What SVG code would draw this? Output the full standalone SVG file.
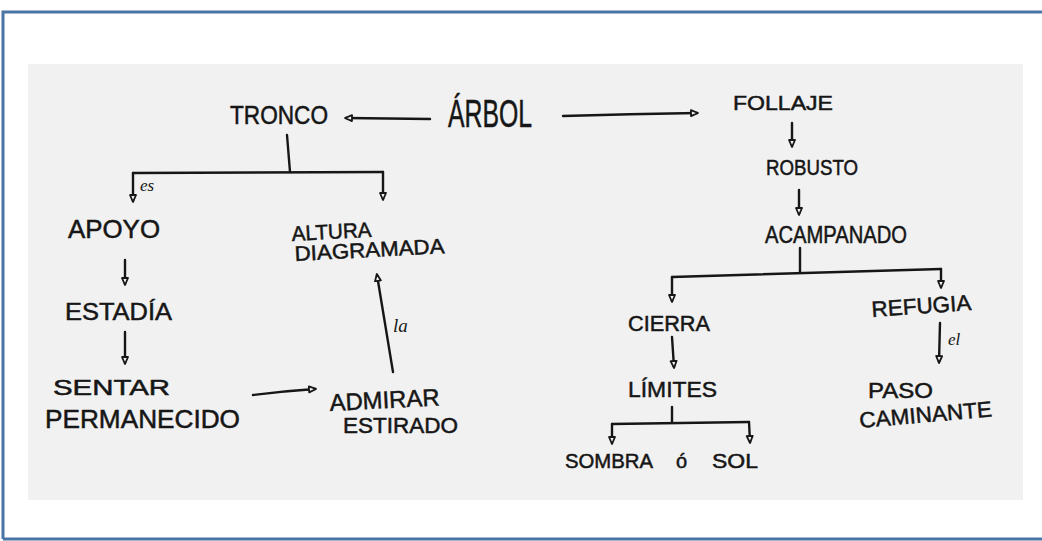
<svg xmlns="http://www.w3.org/2000/svg" width="1042" height="541" viewBox="0 0 1042 541">
<style>
.t{font-family:"Liberation Sans",Arial,sans-serif;fill:#161616;stroke:#161616;stroke-width:0.5;}
.l{font-family:"Liberation Serif","Times New Roman",serif;font-style:italic;fill:#161616;}
.c{stroke:#161616;stroke-width:2.4;fill:none;stroke-linecap:round;}
.h{marker-end:url(#tri);}
</style>
<defs>
<marker id="tri" markerWidth="10" markerHeight="10" refX="7" refY="4" orient="auto" markerUnits="userSpaceOnUse" viewBox="0 0 10 8">
<path d="M1,1 L8,4 L1,7 Z" fill="#f2f2f2" stroke="#161616" stroke-width="1.8" stroke-linejoin="round"/>
</marker>
</defs>
<rect x="0" y="0" width="1042" height="541" fill="#ffffff"/>
<rect x="28" y="64" width="995" height="436" fill="#f1f1f1"/>
<path d="M3,539 L3,12 L1042,12" fill="none" stroke="#4a74a4" stroke-width="3"/>
<line x1="3" y1="539" x2="1042" y2="539" stroke="#4a74a4" stroke-width="3"/>

<g id="connectors">
<path class="c h" d="M430,119 L346,118"/>
<path class="c h" d="M563,116 Q630,114 697,113"/>
<path class="c" d="M287,135 L290,172"/>
<path class="c" d="M133,173 L383,172"/>
<path class="c h" d="M133,173 L133,201"/>
<path class="c h" d="M383,172 L383,199"/>
<path class="c h" d="M125,260 L125,284"/>
<path class="c h" d="M125,332 L125,363"/>
<path class="c h" d="M253,395 Q285,391 315,389"/>
<path class="c h" d="M393,372 L377,275"/>
<path class="c h" d="M792,123 L792,146"/>
<path class="c h" d="M799,190 L799,214"/>
<path class="c" d="M800,248 L800,272"/>
<path class="c" d="M672,277 L941,269"/>
<path class="c h" d="M672,277 L672,301"/>
<path class="c h" d="M941,269 L941,287"/>
<path class="c h" d="M672,337 L674,367"/>
<path class="c h" d="M940,323 L939,362"/>
<path class="c" d="M672,407 L672,422"/>
<path class="c" d="M612,424 L749,422"/>
<path class="c h" d="M612,424 L612,443"/>
<path class="c h" d="M749,422 L750,442"/>
<text class="l" x="140" y="191" font-size="17">es</text>
<text class="l" x="393" y="332" font-size="19">la</text>
<text class="l" x="948" y="345" font-size="17">el</text>
</g>

<g id="arbol"><text class="t" x="448" y="127" font-size="38" textLength="84" lengthAdjust="spacingAndGlyphs">ÁRBOL</text></g>
<g id="tronco"><text class="t" x="230" y="124" font-size="26" textLength="98" lengthAdjust="spacingAndGlyphs">TRONCO</text></g>
<g id="follaje"><text class="t" x="733" y="110" font-size="21" textLength="100" lengthAdjust="spacingAndGlyphs">FOLLAJE</text></g>
<g id="robusto"><text class="t" x="766" y="175" font-size="22" textLength="92" lengthAdjust="spacingAndGlyphs">ROBUSTO</text></g>
<g id="acampanado"><text class="t" x="765" y="243" font-size="24" textLength="142" lengthAdjust="spacingAndGlyphs">ACAMPANADO</text></g>
<g id="cierra"><text class="t" x="628" y="331" font-size="22" textLength="82" lengthAdjust="spacingAndGlyphs">CIERRA</text></g>
<g id="refugia"><text class="t" x="872" y="317" font-size="22" textLength="100" lengthAdjust="spacingAndGlyphs" transform="rotate(-4 872 317)">REFUGIA</text></g>
<g id="limites"><text class="t" x="628" y="397" font-size="22" textLength="89" lengthAdjust="spacingAndGlyphs">LÍMITES</text></g>
<g id="sombra-sol"><text class="t" y="468" font-size="20"><tspan x="565" textLength="88" lengthAdjust="spacingAndGlyphs">SOMBRA</tspan><tspan x="676">ó</tspan><tspan x="712" textLength="46" lengthAdjust="spacingAndGlyphs">SOL</tspan></text></g>
<g id="paso-caminante">
<text class="t" x="868" y="398" font-size="22" textLength="65" lengthAdjust="spacingAndGlyphs">PASO</text>
<text class="t" x="860" y="428" font-size="22" textLength="133" lengthAdjust="spacingAndGlyphs" transform="rotate(-5 860 428)">CAMINANTE</text>
</g>
<g id="apoyo"><text class="t" x="68" y="238" font-size="25" textLength="92" lengthAdjust="spacingAndGlyphs">APOYO</text></g>
<g id="altura-diagramada">
<text class="t" x="292" y="241" font-size="21" textLength="80" lengthAdjust="spacingAndGlyphs" transform="rotate(-3 292 241)">ALTURA</text>
<text class="t" x="295" y="261" font-size="21" textLength="150" lengthAdjust="spacingAndGlyphs" transform="rotate(-3 295 261)">DIAGRAMADA</text>
</g>
<g id="estadia"><text class="t" x="65" y="320" font-size="24" textLength="107" lengthAdjust="spacingAndGlyphs">ESTADÍA</text></g>
<g id="sentar-permanecido">
<text class="t" x="53" y="395" font-size="22" textLength="117" lengthAdjust="spacingAndGlyphs">SENTAR</text>
<text class="t" x="45" y="428" font-size="25" textLength="195" lengthAdjust="spacingAndGlyphs">PERMANECIDO</text>
</g>
<g id="admirar-estirado">
<text class="t" x="330" y="411" font-size="24" textLength="110" lengthAdjust="spacingAndGlyphs" transform="rotate(-3 330 411)">ADMIRAR</text>
<text class="t" x="343" y="433" font-size="22" textLength="115" lengthAdjust="spacingAndGlyphs">ESTIRADO</text>
</g>
</svg>
